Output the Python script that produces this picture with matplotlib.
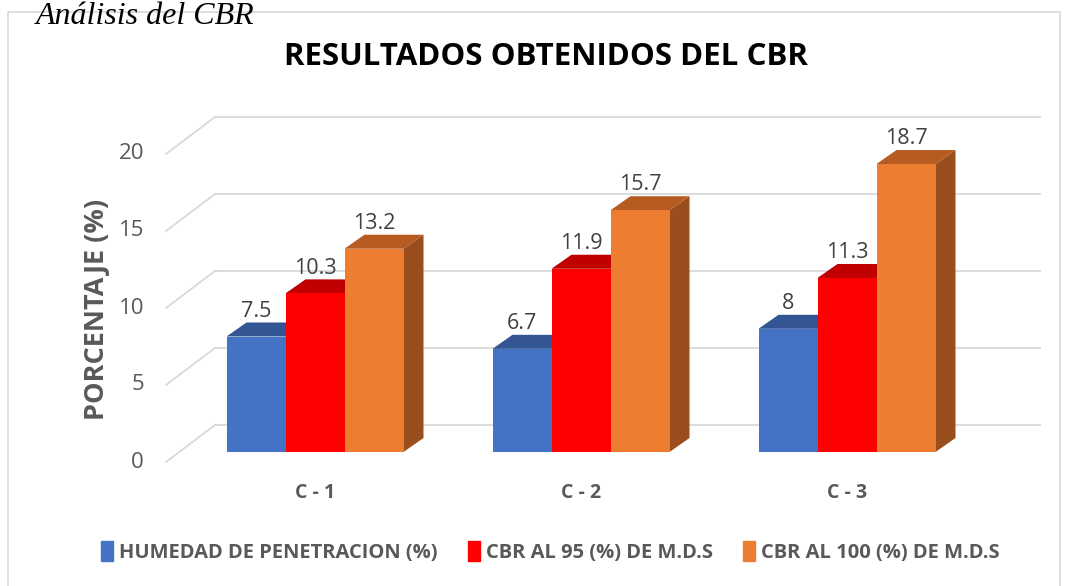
import matplotlib
matplotlib.use("Agg")
import matplotlib.pyplot as plt
from matplotlib.patches import Polygon, Patch, Rectangle

# data
categories = ["C - 1", "C - 2", "C - 3"]
humedad = [7.5, 6.7, 8]
cbr_95 = [10.3, 11.9, 11.3]
cbr_100 = [13.2, 15.7, 18.7]
series_names = ["HUMEDAD DE PENETRACION (%)", "CBR AL 95 (%) DE M.D.S", "CBR AL 100 (%) DE M.D.S"]
y_ticks = [0, 5, 10, 15, 20]

front = ["#4472C4", "#FF0000", "#ED7D31"]
top = ["#335593", "#C00000", "#B65C22"]
side = ["#2B4A80", "#A00000", "#9A4E1E"]
grid_c = "#D9D9D9"
txt_c = "#595959"

# pixel scale of the image (axes fills the figure)
PX_X = 266.0   # px per category
PX_Y = 15.4    # px per unit of value
X0, Y0 = 315, 452  # pixel of category 0, value 0 on the bar front plane

fig = plt.figure(figsize=(10.71, 5.86), dpi=100)
ax = fig.add_axes([0, 0, 1, 1])
ax.set_xlim(-X0 / PX_X, (1071 - X0) / PX_X)
ax.set_ylim(-(586 - Y0) / PX_Y, Y0 / PX_Y)
ax.axis("off")

def px(dx):
    return dx / PX_X

def py(dy):
    return dy / PX_Y

# back wall gridlines + floor diagonals
wall_dx, wall_dy = px(36), py(27)
lab_dx, lab_dy = px(-13), py(-10)
x_wall_l = px(215 - X0)
x_wall_r = px(1040 - X0)
for v in y_ticks:
    ax.plot([x_wall_l, x_wall_r], [v + wall_dy, v + wall_dy], color=grid_c, lw=1.3, zorder=1)
    ax.plot([x_wall_l - (wall_dx - lab_dx), x_wall_l], [v + lab_dy, v + wall_dy],
            color=grid_c, lw=1.3, zorder=1)
    ax.text(x_wall_l - (wall_dx - lab_dx) - px(22), v + lab_dy, str(v), ha="right", va="center",
            fontsize=16, color=txt_c, family="Open Sans")

# 3D-like bars
w = px(59)
ddx, ddy = px(20), py(14)
series = [humedad, cbr_95, cbr_100]
for i, cat in enumerate(categories):
    for j, vals in enumerate(series):
        v = vals[i]
        xl = i + (j - 1.5) * w
        xr = xl + w
        z = 3 + i * 3 + j
        ax.add_patch(Polygon([(xr, 0), (xr + ddx, ddy), (xr + ddx, v + ddy), (xr, v)],
                             closed=True, fc=side[j], ec="none", zorder=z))
        ax.add_patch(Polygon([(xl, v), (xl + ddx, v + ddy), (xr + ddx, v + ddy), (xr, v)],
                             closed=True, fc=top[j], ec="none", zorder=z))
        ax.bar(xl, v, width=w, align="edge", color=front[j], zorder=z)
        ax.text(xl + w / 2, v + ddy + 0.05, f"{v:g}", ha="center", va="bottom",
                fontsize=15.5, color="#404040", family="Open Sans", zorder=20)
    ax.text(i, py(-41), cat, ha="center", va="center", fontsize=14, fontweight="bold",
            color=txt_c, family="Open Sans")

fig.text(0.091, 1 - 309 / 586, "PORCENTAJE (%)", rotation=90, ha="center", va="center",
         fontsize=19.5, fontweight="bold", color=txt_c, family="Open Sans")
fig.text(0.51, 1 - 57 / 586, "RESULTADOS OBTENIDOS DEL CBR", ha="center", va="center",
         fontsize=22.5, fontweight="bold", color="black", family="Open Sans")
fig.text(0.033, 1 - 16 / 586, "Análisis del CBR", ha="left", va="center",
         fontsize=23, style="italic", family="Liberation Serif", color="black")

# chart border
fig.add_artist(Rectangle((8 / 1071, -0.01), 1052 / 1071, 1 - 12 / 586 + 0.01,
                         transform=fig.transFigure, fill=False, ec=grid_c, lw=1.2, zorder=0))

handles = [Patch(color=c) for c in front]
fig.legend(handles, series_names, loc="center", bbox_to_anchor=(0.514, 1 - 552 / 586), ncol=3,
           frameon=False, handlelength=0.6, handleheight=1.1, handletextpad=0.3, columnspacing=1.5,
           prop={"family": "Open Sans", "weight": "bold", "size": 14.5}, labelcolor=txt_c)

fig.savefig("out.png", dpi=100)
